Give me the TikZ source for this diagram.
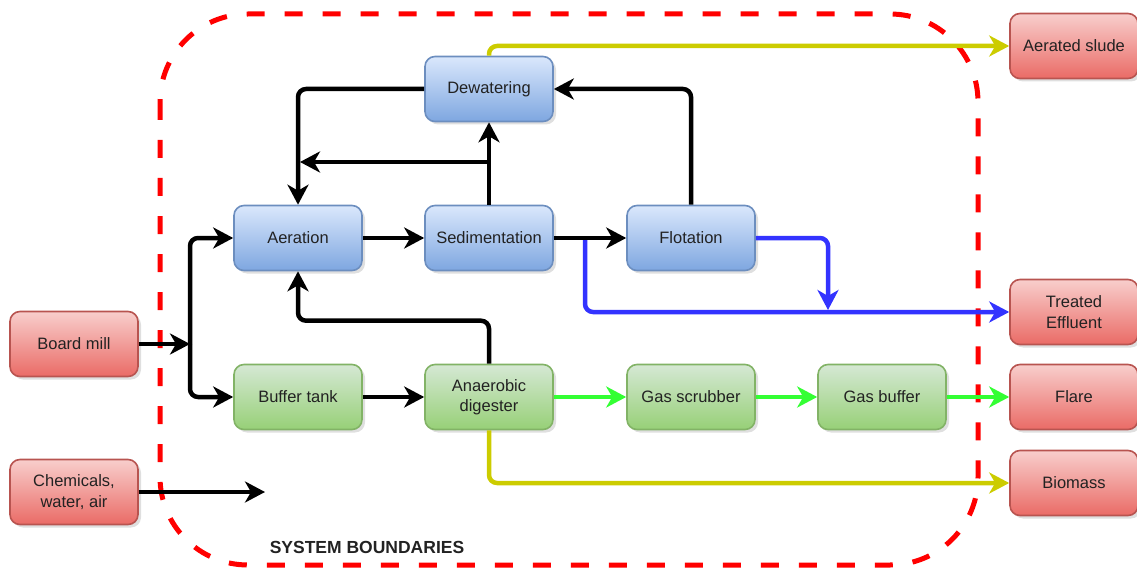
\documentclass[tikz,border=0pt]{standalone}
\usepackage{fontspec}
\setmainfont{Liberation Sans}
\usetikzlibrary{arrows.meta,shadows,calc}
\definecolor{bfillT}{HTML}{DAE8FC}
\definecolor{bfillB}{HTML}{7EA6E0}
\definecolor{bdraw}{HTML}{6C8EBF}
\definecolor{gfillT}{HTML}{D5E8D4}
\definecolor{gfillB}{HTML}{97D077}
\definecolor{gdraw}{HTML}{82B366}
\definecolor{rfillT}{HTML}{F8CECC}
\definecolor{rfillB}{HTML}{EA6B66}
\definecolor{rdraw}{HTML}{B85450}
\definecolor{ylw}{HTML}{CCCC00}
\definecolor{grn}{HTML}{33FF33}
\definecolor{blu}{HTML}{3333FF}
\definecolor{txt}{HTML}{222222}
\tikzset{
  box/.style={rectangle, rounded corners=10pt, minimum width=128pt, minimum height=65pt,
    line width=1.6pt, align=center, text=txt, font=\fontsize{16.5}{20.5}\selectfont,
    drop shadow={shadow xshift=3pt, shadow yshift=-3pt, opacity=0.25}},
  bluebox/.style={box, draw=bdraw, top color=bfillT, bottom color=bfillB},
  greenbox/.style={box, draw=gdraw, top color=gfillT, bottom color=gfillB},
  redbox/.style={box, draw=rdraw, top color=rfillT, bottom color=rfillB},
  tip/.tip={Stealth[length=20pt,width=21pt,inset=6pt]},
  flow/.style={line width=4.5pt, rounded corners=8pt, -tip},
  blk/.style={flow, draw=black},
  ylwline/.style={flow, draw=ylw},
  grnline/.style={flow, draw=grn},
  bluline/.style={flow, draw=blu},
}
\begin{document}
\begin{tikzpicture}[x=1pt,y=-1pt]
\useasboundingbox (0,0) rectangle (1137,572);
% system boundary
\draw[red, line width=5pt, dash pattern=on 18pt off 20pt, rounded corners=88pt] (160,14) rectangle (978,565);
\node[font=\bfseries\fontsize{17.5}{20}\selectfont, text=txt] (sb) at (367,547) {SYSTEM BOUNDARIES};

% nodes
\node[bluebox] (dew) at (489,89) {Dewatering};
\node[bluebox] (aer) at (298,238) {Aeration};
\node[bluebox] (sed) at (489,238) {Sedimentation};
\node[bluebox] (flo) at (691,238) {Flotation};
\node[greenbox] (buf) at (298,397) {Buffer tank};
\node[greenbox] (ana) at (489,397) {Anaerobic\\digester};
\node[greenbox] (gs) at (691,397) {Gas scrubber};
\node[greenbox] (gb) at (882,397) {Gas buffer};
\node[redbox] (bm) at (74,344) {Board mill};
\node[redbox] (chem) at (74,492) {Chemicals,\\water, air};
\node[redbox] (as) at (1074,46) {Aerated slude};
\node[redbox] (te) at (1074,312) {Treated\\Effluent};
\node[redbox] (fl) at (1074,397) {Flare};
\node[redbox] (bio) at (1074,483) {Biomass};

% coordinates
\coordinate (j) at (190,344);
\coordinate (chemEnd) at (265,492);
\coordinate (sj) at (489,162);
\coordinate (sl) at (300,162);
\coordinate (bsplit) at (585,238);
\coordinate (fdrop) at (828,310);

% blue connectors
\draw[bluline] (bsplit) |- (te.west);
\draw[bluline] (flo.east) -| (fdrop);

% black connectors
\draw[blk] (bm.east) -- (j);
\draw[blk] (j) |- (aer.west);
\draw[blk] (j) |- (buf.west);
\draw[blk] (chem.east) -- (chemEnd);
\draw[blk] (aer) -- (sed);
\draw[blk] (sed) -- (flo);
\draw[blk] (sed.north) -- (dew.south);
\draw[blk] (sj) -- (sl);
\draw[blk] (dew.west) -| (aer.north);
\draw[blk] (flo.north) |- (dew.east);
\draw[blk] (ana.north) -- ++(0,-43) -| (aer.south);
\draw[blk] (buf) -- (ana);

% green connectors
\draw[grnline] (ana) -- (gs);
\draw[grnline] (gs) -- (gb);
\draw[grnline] (gb) -- (fl);

% yellow connectors
\draw[ylwline] (dew.north) |- (as.west);
\draw[ylwline] (ana.south) |- (bio.west);
\end{tikzpicture}
\end{document}
